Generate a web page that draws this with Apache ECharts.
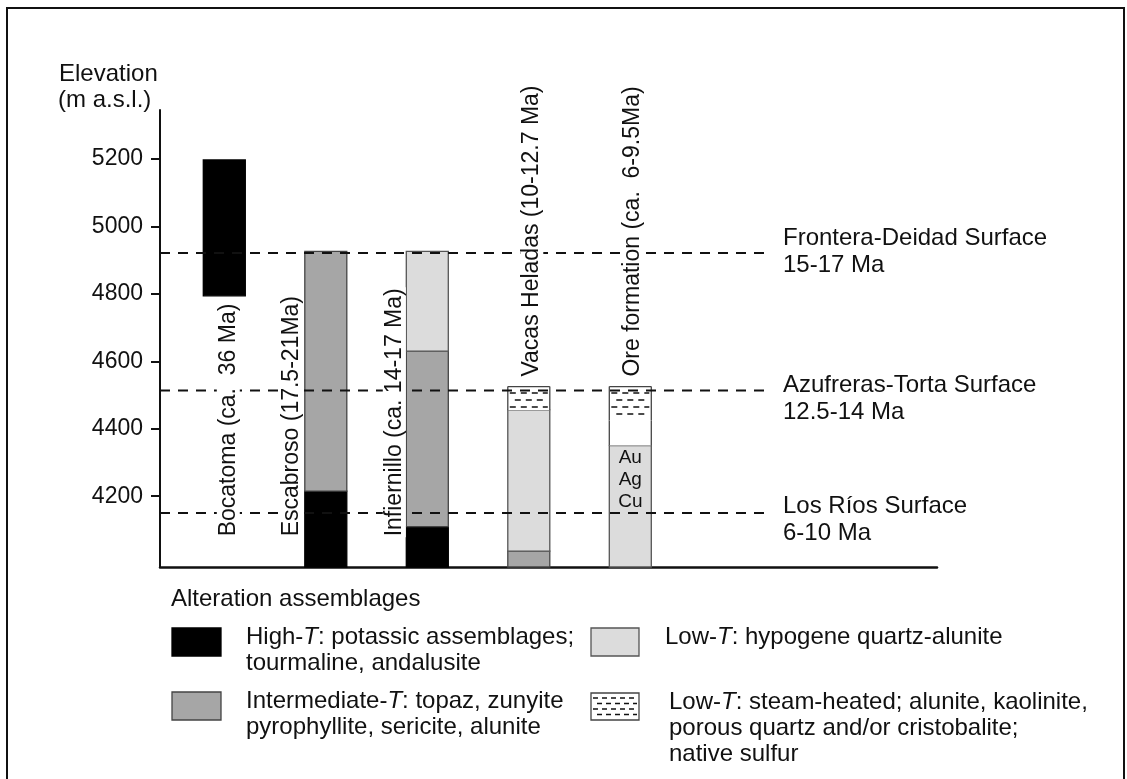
<!DOCTYPE html>
<html><head><meta charset="utf-8">
<script src="https://cdn.jsdelivr.net/npm/echarts@6/dist/echarts.min.js"></script>
<style>html,body{margin:0;padding:0;background:#fff}#c{width:1127px;height:779px}</style>
</head><body><div id="c"></div>
<script>
// ---------- data ----------
const columnNames = ['Bocatoma (ca.  36 Ma)', 'Escabroso (17.5-21Ma)', 'Infiernillo (ca. 14-17 Ma)', 'Vacas Heladas (10-12.7 Ma)', 'Ore formation (ca.  6-9.5Ma)'];
const segColumn = [0, 1, 1, 2, 2, 2, 3, 3, 3, 4, 4, 4];
const segBottom = [4794, 3990, 4215, 3990, 4110, 4630, 3990, 4037, 4455, 3990, 4350, 4425];
const segTop    = [5197, 4215, 4926, 4110, 4630, 4926, 4037, 4455, 4525, 4350, 4425, 4525];
const segType   = ['high', 'high', 'inter', 'high', 'inter', 'low', 'inter', 'low', 'steam', 'low', 'blank', 'steam'];
const surfaceNames = ['Frontera-Deidad Surface', 'Azufreras-Torta Surface', 'Los Ríos Surface'];
const surfaceAges = ['15-17 Ma', '12.5-14 Ma', '6-10 Ma'];
const surfaceElev = [4921, 4513, 4150];
const yTicks = [4200, 4400, 4600, 4800, 5000, 5200];
const oreMetals = ['Au', 'Ag', 'Cu'];
const oreMetalsColumn = 4;
const oreMetalsElev = 4248;
const axisTitle = ['Elevation', '(m a.s.l.)'];
const legendTitle = 'Alteration assemblages';
const legendTypes = ['high', 'inter', 'low', 'steam'];
const legendLabels = [
  ['High-{i|T}: potassic assemblages;', 'tourmaline, andalusite'],
  ['Intermediate-{i|T}: topaz, zunyite', 'pyrophyllite, sericite, alunite'],
  ['Low-{i|T}: hypogene quartz-alunite'],
  ['Low-{i|T}: steam-heated; alunite, kaolinite,', 'porous quartz and/or cristobalite;', 'native sulfur']
];

// ---------- styling / layout ----------
const FONT = '"Liberation Sans", Arial, Helvetica, sans-serif';
const INK = '#111';
const FILL = {high: '#000', inter: '#a6a6a6', low: '#dcdcdc', steam: '#fff', blank: '#fff'};
const EDGE = {high: '#000', inter: '#444', low: '#555', steam: '#444', blank: '#444'};
const BAR_W = 42;
const LABEL_DX = [4, -34, -33, 3, 2];
const LABEL_BASE_ELEV = 4078;
const SURF_DY = [-15, -5, -7];

const colTop = columnNames.map((_, c) => Math.max(...segTop.filter((t, i) => segColumn[i] === c)));

function steamRows(x, y, w, h, gap, dash) {
  const out = [];
  let k = 0;
  for (let ry = y + gap - 0.5; ry < y + h - 2; ry += gap, k++) {
    out.push({type: 'line', shape: {x1: x + 2, y1: ry, x2: x + w - 2, y2: ry},
      style: {stroke: INK, lineWidth: 1.5, lineDash: [dash, dash - 1], lineDashOffset: k % 2 ? dash : 0}});
  }
  return out;
}

function renderSeg(params, api) {
  const i = params.dataIndex;
  const type = segType[i];
  const c = api.value(0);
  const pb = api.coord([c, api.value(1)]);
  const pt = api.coord([c, api.value(2)]);
  const x = pb[0] - BAR_W / 2, y = pt[1], h = pb[1] - pt[1];
  if (type === 'steam' || type === 'blank') {
    const ch = [
      {type: 'rect', shape: {x, y, width: BAR_W, height: h}, style: {fill: '#fff', lineWidth: 0}},
      {type: 'line', shape: {x1: x, y1: y, x2: x, y2: y + h}, style: {stroke: EDGE[type], lineWidth: 1.3}},
      {type: 'line', shape: {x1: x + BAR_W, y1: y, x2: x + BAR_W, y2: y + h}, style: {stroke: EDGE[type], lineWidth: 1.3}}
    ];
    if (type === 'steam') {
      ch.push({type: 'line', shape: {x1: x, y1: y, x2: x + BAR_W, y2: y}, style: {stroke: EDGE[type], lineWidth: 1.3}});
      ch.push(...steamRows(x, y, BAR_W, h, 7, 6));
    }
    return {type: 'group', children: ch};
  }
  return {type: 'rect', shape: {x, y, width: BAR_W, height: h},
    style: {fill: FILL[type], stroke: EDGE[type], lineWidth: 1.3}};
}

function renderSurface(params, api) {
  const i = params.dataIndex;
  const y = api.coord([0, api.value(1)])[1];
  const x0 = params.coordSys.x;
  return {type: 'group', children: [
    {type: 'line', shape: {x1: x0, y1: y, x2: x0 + 611, y2: y},
      style: {stroke: INK, lineWidth: 2, lineDash: [10, 8]}},
    {type: 'text', x: x0 + 623, y: y + SURF_DY[i],
      style: {text: surfaceNames[i], fill: INK, fontSize: 24, fontFamily: FONT, align: 'left', verticalAlign: 'middle'}},
    {type: 'text', x: x0 + 623, y: y + SURF_DY[i] + 27,
      style: {text: surfaceAges[i], fill: INK, fontSize: 24, fontFamily: FONT, align: 'left', verticalAlign: 'middle'}}
  ]};
}

function renderColLabel(params, api) {
  const i = params.dataIndex;
  const p = api.coord([api.value(0), api.value(1)]);
  const y = i < 3 ? p[1] : p[1] - 9;
  return {type: 'text', x: p[0] + LABEL_DX[i], y: y, rotation: Math.PI / 2,
    style: {text: columnNames[i], fill: INK, fontSize: 23, fontFamily: FONT, align: 'left', verticalAlign: 'middle',
      backgroundColor: '#fff', padding: [0, 1]}};
}

function renderMetals(params, api) {
  const p = api.coord([api.value(0), api.value(1)]);
  return {type: 'text', x: p[0], y: p[1],
    style: {text: oreMetals.join('\n'), fill: INK, fontSize: 19, fontFamily: FONT, lineHeight: 22, align: 'center', verticalAlign: 'middle'}};
}

// ---------- legend graphics ----------
const graphics = [
  {type: 'rect', shape: {x: 7, y: 8, width: 1117, height: 800}, style: {fill: 'none', stroke: INK, lineWidth: 2}, z: 0},
  {type: 'text', x: 59, y: 74, style: {text: axisTitle[0], fill: INK, fontSize: 24, fontFamily: FONT, verticalAlign: 'middle'}},
  {type: 'text', x: 58, y: 100, style: {text: axisTitle[1], fill: INK, fontSize: 24, fontFamily: FONT, verticalAlign: 'middle'}},
  {type: 'text', x: 171, y: 599, style: {text: legendTitle, fill: INK, fontSize: 24, fontFamily: FONT, verticalAlign: 'middle'}}
];
const swatchPos = [[172, 628], [172, 692], [591, 628], [591, 693]];
const textPos = [[246, 637], [246, 701], [665, 637], [669, 702]];
legendTypes.forEach((t, k) => {
  const [sx, sy] = swatchPos[k];
  const sw = k < 2 ? 49 : 48, sh = 28;
  if (t === 'steam') {
    graphics.push({type: 'rect', shape: {x: sx, y: sy, width: sw, height: sh - 1}, style: {fill: '#fff', stroke: EDGE[t], lineWidth: 1.3}});
    steamRows(sx, sy, sw, sh - 1, 5.5, 5).forEach(l => graphics.push(l));
  } else {
    graphics.push({type: 'rect', shape: {x: sx, y: sy, width: sw, height: sh}, style: {fill: FILL[t], stroke: EDGE[t], lineWidth: 1.3}});
  }
  legendLabels[k].forEach((line, j) => {
    graphics.push({type: 'text', x: textPos[k][0], y: textPos[k][1] + j * 26,
      style: {text: line, fill: INK, fontSize: 24, fontFamily: FONT, verticalAlign: 'middle',
        rich: {i: {fontStyle: 'italic', fontSize: 24, fontFamily: FONT, fill: INK}}}});
  });
});

const chart = echarts.init(document.getElementById('c'), null, {renderer: 'canvas'});
chart.setOption({
  animation: false,
  backgroundColor: '#fff',
  grid: {left: 160, right: 190, top: 110, bottom: 212},
  xAxis: {type: 'value', min: -0.6335, max: 7.0217,
    axisLine: {show: true, onZero: false, lineStyle: {color: INK, width: 2.5}},
    axisTick: {show: false}, axisLabel: {show: false}, splitLine: {show: false}},
  yAxis: {type: 'value', min: 3990, max: 5345,
    axisLine: {show: true, onZero: false, lineStyle: {color: INK, width: 2}},
    axisTick: {show: true, length: 9, lineStyle: {color: INK, width: 2}, customValues: yTicks},
    axisLabel: {customValues: yTicks, margin: 17, fontSize: 23, fontFamily: FONT, color: INK,
      formatter: v => String(v)},
    splitLine: {show: false}},
  graphic: graphics,
  series: [
    {type: 'custom', name: 'segments', z: 2, renderItem: renderSeg,
      data: segColumn.map((c, i) => [c, segBottom[i], segTop[i]])},
    {type: 'custom', name: 'surfaces', z: 3, renderItem: renderSurface,
      data: surfaceElev.map(e => [0, e])},
    {type: 'custom', name: 'labels', z: 4, renderItem: renderColLabel,
      data: columnNames.map((n, i) => [i, i < 3 ? LABEL_BASE_ELEV : colTop[i]])},
    {type: 'custom', name: 'metals', z: 4, renderItem: renderMetals,
      data: [[oreMetalsColumn, oreMetalsElev]]}
  ]
});
</script></body></html>
